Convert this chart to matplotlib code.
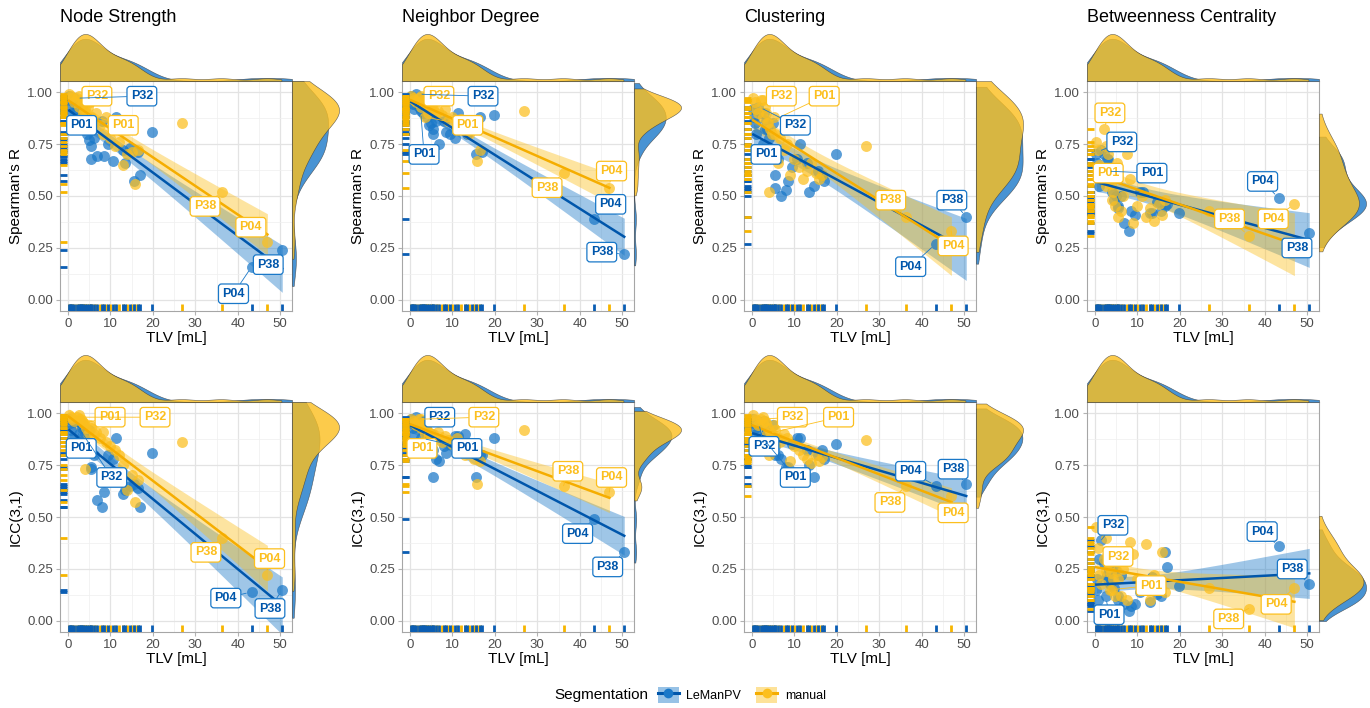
import numpy as np
import matplotlib
matplotlib.use("Agg")
import matplotlib.pyplot as plt
from matplotlib.patches import Patch
from matplotlib.lines import Line2D

plt.rcParams["font.family"] = ["Liberation Sans", "DejaVu Sans"]

# ---- data ----
patient_ids = ["P02", "P03", "P05", "P06", "P32", "P07", "P01", "P08", "P09", "P10",
               "P11", "P12", "P13", "P14", "P15", "P16", "P17", "P18", "P19", "P20",
               "P21", "P22", "P23", "P04", "P38",
               "P24", "P25", "P26", "P27", "P28", "P29", "P30"]
tlv_lem = [0.3, 0.5, 0.8, 1.0, 1.5, 2.0, 2.5, 3.0, 5.0, 5.3, 6.8, 8.0, 8.5, 9.5, 10.5,
           11.2, 13.0, 13.5, 14.5, 15.5, 16.5, 17.0, 19.8, 43.3, 50.5,
           2.8, 3.2, 3.6, 4.0, 4.5, 5.5, 6.0]
tlv_man = [0.2, 0.6, 1.0, 1.3, 2.0, 2.5, 3.5, 4.0, 5.5, 6.0, 6.5, 7.5, 8.3, 9.0, 10.0,
           11.0, 12.0, 13.0, 14.0, 15.0, 15.8, 16.5, 26.8, 47.0, 36.2,
           2.6, 3.0, 3.4, 3.8, 4.2, 4.8, 5.2]

strength_sp_lem = [0.98, 0.96, 0.93, 0.90, 0.97, 0.92, 0.88, 0.90, 0.77, 0.68, 0.69, 0.86, 0.69,
                   0.75, 0.67, 0.88, 0.72, 0.66, 0.73, 0.57, 0.71, 0.60, 0.81, 0.16, 0.24,
                   0.95, 0.91, 0.94, 0.86, 0.80, 0.74, 0.78]
strength_sp_man = [0.99, 0.98, 0.97, 0.95, 0.97, 0.93, 0.90, 0.92, 0.88, 0.85, 0.90, 0.84, 0.80,
                   0.88, 0.78, 0.74, 0.76, 0.65, 0.70, 0.71, 0.56, 0.72, 0.85, 0.28, 0.52,
                   0.98, 0.96, 0.94, 0.91, 0.89, 0.93, 0.95]
neighbor_sp_lem = [0.98, 0.96, 0.94, 0.92, 0.99, 0.93, 0.91, 0.90, 0.85, 0.82, 0.75, 0.86, 0.81,
                   0.80, 0.78, 0.90, 0.85, 0.80, 0.82, 0.70, 0.88, 0.71, 0.89, 0.39, 0.22,
                   0.97, 0.93, 0.95, 0.88, 0.84, 0.80, 0.86]
neighbor_sp_man = [0.98, 0.97, 0.96, 0.95, 0.97, 0.93, 0.88, 0.94, 0.92, 0.90, 0.91, 0.89, 0.92,
                   0.86, 0.88, 0.85, 0.87, 0.82, 0.80, 0.84, 0.67, 0.72, 0.91, 0.54, 0.61,
                   0.98, 0.96, 0.95, 0.93, 0.90, 0.92, 0.94]
clustering_sp_lem = [0.92, 0.88, 0.85, 0.80, 0.93, 0.90, 0.75, 0.82, 0.85, 0.54, 0.50, 0.53, 0.57,
                     0.64, 0.68, 0.75, 0.66, 0.52, 0.55, 0.62, 0.60, 0.57, 0.70, 0.27, 0.40,
                     0.90, 0.86, 0.82, 0.78, 0.72, 0.60, 0.68]
clustering_sp_man = [0.97, 0.95, 0.92, 0.90, 0.96, 0.88, 0.85, 0.52, 0.80, 0.66, 0.78, 0.72, 0.75,
                     0.60, 0.68, 0.64, 0.58, 0.62, 0.66, 0.61, 0.58, 0.60, 0.74, 0.33, 0.40,
                     0.96, 0.93, 0.90, 0.85, 0.82, 0.80, 0.88]
betweenness_sp_lem = [0.70, 0.66, 0.60, 0.55, 0.72, 0.70, 0.62, 0.68, 0.50, 0.45, 0.37, 0.33, 0.43,
                      0.41, 0.52, 0.52, 0.42, 0.42, 0.47, 0.43, 0.45, 0.46, 0.42, 0.49, 0.32,
                      0.68, 0.64, 0.58, 0.52, 0.48, 0.44, 0.50]
betweenness_sp_man = [0.76, 0.72, 0.65, 0.60, 0.82, 0.55, 0.58, 0.48, 0.40, 0.43, 0.50, 0.70, 0.58,
                      0.37, 0.45, 0.50, 0.40, 0.44, 0.38, 0.46, 0.41, 0.48, 0.43, 0.46, 0.31,
                      0.74, 0.70, 0.62, 0.56, 0.52, 0.45, 0.66]

strength_icc_lem = [0.97, 0.95, 0.92, 0.88, 0.96, 0.96, 0.90, 0.95, 0.92, 0.74, 0.58, 0.55, 0.62,
                    0.80, 0.78, 0.88, 0.61, 0.63, 0.65, 0.66, 0.64, 0.55, 0.81, 0.14, 0.15,
                    0.96, 0.93, 0.94, 0.90, 0.86, 0.73, 0.80]
strength_icc_man = [0.99, 0.98, 0.97, 0.96, 0.98, 0.97, 0.95, 0.73, 0.93, 0.90, 0.91, 0.88, 0.91,
                    0.86, 0.84, 0.82, 0.80, 0.75, 0.63, 0.70, 0.57, 0.68, 0.86, 0.22, 0.40,
                    0.99, 0.97, 0.96, 0.95, 0.93, 0.90, 0.94]
neighbor_icc_lem = [0.97, 0.95, 0.93, 0.90, 0.98, 0.95, 0.88, 0.92, 0.90, 0.69, 0.77, 0.84, 0.81,
                    0.85, 0.89, 0.89, 0.90, 0.83, 0.85, 0.69, 0.80, 0.80, 0.88, 0.49, 0.33,
                    0.96, 0.94, 0.92, 0.89, 0.86, 0.82, 0.78]
neighbor_icc_man = [0.97, 0.96, 0.95, 0.94, 0.97, 0.93, 0.90, 0.92, 0.90, 0.88, 0.91, 0.86, 0.89,
                    0.87, 0.85, 0.88, 0.84, 0.80, 0.82, 0.78, 0.66, 0.77, 0.92, 0.62, 0.65,
                    0.97, 0.95, 0.94, 0.93, 0.91, 0.90, 0.96]
clustering_icc_lem = [0.97, 0.95, 0.93, 0.90, 0.96, 0.95, 0.88, 0.86, 0.94, 0.80, 0.78, 0.74, 0.74,
                      0.85, 0.88, 0.88, 0.82, 0.75, 0.69, 0.80, 0.82, 0.78, 0.85, 0.65, 0.66,
                      0.96, 0.93, 0.92, 0.90, 0.87, 0.84, 0.80]
clustering_icc_man = [0.99, 0.97, 0.96, 0.94, 0.97, 0.95, 0.90, 0.80, 0.92, 0.88, 0.86, 0.90, 0.88,
                      0.77, 0.84, 0.82, 0.80, 0.78, 0.76, 0.80, 0.77, 0.79, 0.87, 0.60, 0.65,
                      0.98, 0.96, 0.95, 0.93, 0.91, 0.90, 0.94]
betweenness_icc_lem = [0.15, 0.20, 0.10, 0.30, 0.39, 0.28, 0.12, 0.20, 0.24, 0.12, 0.08, 0.05, 0.07,
                       0.08, 0.14, 0.18, 0.09, 0.21, 0.13, 0.12, 0.33, 0.26, 0.17, 0.36, 0.18,
                       0.22, 0.25, 0.18, 0.24, 0.16, 0.10, 0.22]
betweenness_icc_man = [0.45, 0.35, 0.22, 0.18, 0.30, 0.24, 0.15, 0.15, 0.20, 0.12, 0.25, 0.10, 0.38,
                       0.32, 0.20, 0.16, 0.37, 0.10, 0.22, 0.18, 0.33, 0.14, 0.16, 0.16, 0.06,
                       0.40, 0.28, 0.26, 0.23, 0.20, 0.12, 0.24]

metric_titles = ["Node Strength", "Neighbor Degree", "Clustering", "Betweenness Centrality"]
row_labels = ["Spearman's R", "ICC(3,1)"]
panel_values = [
    [(strength_sp_lem, strength_sp_man), (neighbor_sp_lem, neighbor_sp_man),
     (clustering_sp_lem, clustering_sp_man), (betweenness_sp_lem, betweenness_sp_man)],
    [(strength_icc_lem, strength_icc_man), (neighbor_icc_lem, neighbor_icc_man),
     (clustering_icc_lem, clustering_icc_man), (betweenness_icc_lem, betweenness_icc_man)],
]

# repelled label placements (segmentation, patient, label x, label y)
label_spots = {
    (0, 0): [("man", "P32", 6.8, 0.98), ("lem", "P32", 17.4, 0.98), ("man", "P01", 13.0, 0.84),
             ("lem", "P01", 3.2, 0.84), ("man", "P38", 32.3, 0.45), ("man", "P04", 43.1, 0.35),
             ("lem", "P38", 47.2, 0.17), ("lem", "P04", 39.0, 0.03)],
    (0, 1): [("man", "P32", 6.8, 0.98), ("lem", "P32", 17.2, 0.98), ("man", "P01", 13.6, 0.84),
             ("lem", "P01", 3.3, 0.70), ("man", "P04", 47.5, 0.62), ("man", "P38", 32.3, 0.54),
             ("lem", "P04", 47.3, 0.46), ("lem", "P38", 45.2, 0.23)],
    (0, 2): [("man", "P32", 6.9, 0.98), ("man", "P01", 17.0, 0.98), ("lem", "P32", 10.2, 0.84),
             ("lem", "P01", 3.3, 0.70), ("man", "P38", 32.7, 0.48), ("lem", "P38", 47.1, 0.48),
             ("man", "P04", 47.4, 0.26), ("lem", "P04", 37.4, 0.16)],
    (0, 3): [("man", "P32", 3.5, 0.90), ("lem", "P32", 6.3, 0.76), ("man", "P01", 3.1, 0.61),
             ("lem", "P01", 13.4, 0.61), ("lem", "P04", 39.5, 0.57), ("man", "P38", 31.7, 0.39),
             ("man", "P04", 42.0, 0.39), ("lem", "P38", 47.6, 0.25)],
    (1, 0): [("man", "P01", 9.9, 0.98), ("man", "P32", 20.5, 0.98), ("lem", "P01", 3.1, 0.83),
             ("lem", "P32", 10.3, 0.69), ("man", "P38", 32.5, 0.33), ("man", "P04", 47.5, 0.30),
             ("lem", "P04", 37.2, 0.11), ("lem", "P38", 47.6, 0.06)],
    (1, 1): [("lem", "P32", 7.0, 0.98), ("man", "P32", 17.4, 0.98), ("man", "P01", 2.8, 0.83),
             ("lem", "P01", 13.4, 0.83), ("man", "P38", 37.2, 0.72), ("man", "P04", 47.5, 0.69),
             ("lem", "P04", 39.5, 0.42), ("lem", "P38", 46.6, 0.26)],
    (1, 2): [("man", "P32", 9.5, 0.98), ("man", "P01", 20.4, 0.98), ("lem", "P32", 2.8, 0.84),
             ("lem", "P01", 10.2, 0.69), ("lem", "P04", 37.4, 0.72), ("lem", "P38", 47.4, 0.73),
             ("man", "P38", 32.5, 0.57), ("man", "P04", 47.4, 0.52)],
    (1, 3): [("lem", "P32", 4.2, 0.46), ("man", "P32", 5.4, 0.31), ("man", "P01", 13.2, 0.17),
             ("lem", "P01", 3.3, 0.03), ("lem", "P04", 39.4, 0.43), ("lem", "P38", 46.5, 0.25),
             ("man", "P04", 42.7, 0.08), ("man", "P38", 31.5, 0.01)],
}

# ---- style ----
W, H = 1370, 708
BLUE = "#1a78c8"
BLUE_LINE = "#0056ab"
BLUE_RUG = "#0a5db3"
YELLOW = "#fcbf1e"
YELLOW_LINE = "#f5ad00"
YELLOW_RUG = "#f7b500"
seg_style = {
    "lem": dict(pt=BLUE, line=BLUE_LINE, rug=BLUE_RUG, fill=BLUE, xrug_z=6, yrug_z=5),
    "man": dict(pt=YELLOW, line=YELLOW_LINE, rug=YELLOW_RUG, fill=YELLOW, xrug_z=5, yrug_z=6),
}
col_left = [60, 402, 744, 1087]
row_top = [81, 402]
main_w, main_h = 232, 230
marg = 48
XLIM = (-1.9, 52.8)
YLIM = (-0.053, 1.053)


def frac(left, top, w, h):
    return [left / W, (H - top - h) / H, w / W, h / H]


def lm_band(x, y, t_crit=2.04):
    x = np.asarray(x, float)
    y = np.asarray(y, float)
    slope, icpt = np.polyfit(x, y, 1)
    xs = np.linspace(x.min(), x.max(), 80)
    fit = icpt + slope * xs
    resid = y - (icpt + slope * x)
    n = len(x)
    s = np.sqrt(np.sum(resid ** 2) / (n - 2))
    se = s * np.sqrt(1 / n + (xs - x.mean()) ** 2 / np.sum((x - x.mean()) ** 2))
    return xs, fit, fit - t_crit * se, fit + t_crit * se


def kde(v, lims, adjust=1.0):
    v = np.asarray(v, float)
    n = len(v)
    iqr = np.subtract(*np.percentile(v, [75, 25]))
    bw = adjust * 0.9 * min(v.std(ddof=1), iqr / 1.34) * n ** -0.2
    lo = max(v.min() - bw, lims[0])
    hi = min(v.max() + bw, lims[1])
    grid = np.linspace(lo, hi, 300)
    d = np.exp(-0.5 * ((grid[:, None] - v[None, :]) / bw) ** 2).sum(axis=1)
    return grid, d / (n * bw * np.sqrt(2 * np.pi))


fig = plt.figure(figsize=(W / 100, H / 100), dpi=100)

for r in range(2):
    for c in range(4):
        left, top = col_left[c], row_top[r]
        ax = fig.add_axes(frac(left, top, main_w, main_h))
        ax_top = fig.add_axes(frac(left, top - marg, main_w, marg))
        ax_right = fig.add_axes(frac(left + main_w, top, marg, main_h))

        vals = {"lem": panel_values[r][c][0], "man": panel_values[r][c][1]}
        tlv = {"lem": tlv_lem, "man": tlv_man}

        ax.set_xlim(*XLIM)
        ax.set_ylim(*YLIM)
        ax.set_xticks([0, 10, 20, 30, 40, 50])
        ax.set_xticks([5, 15, 25, 35, 45], minor=True)
        ax.set_yticks([0, 0.25, 0.5, 0.75, 1.0])
        ax.set_yticklabels(["0.00", "0.25", "0.50", "0.75", "1.00"])
        ax.set_yticks([0.125, 0.375, 0.625, 0.875], minor=True)
        ax.grid(which="major", color="#e3e3e3", lw=0.9, zorder=0)
        ax.grid(which="minor", color="#efefef", lw=0.5, zorder=0)
        ax.set_axisbelow(True)
        for sp in ax.spines.values():
            sp.set_color("#a6a6a6")
            sp.set_linewidth(0.8)
        ax.tick_params(which="major", length=3, color="#b3b3b3", labelsize=9.5,
                       labelcolor="#4d4d4d", pad=2)
        ax.tick_params(which="minor", length=0)
        ax.set_xlabel("TLV [mL]", fontsize=11, labelpad=1)
        ax.set_ylabel(row_labels[r], fontsize=11, labelpad=3)

        dens_top, dens_right = [], []
        for seg in ("lem", "man"):
            st = seg_style[seg]
            x = np.asarray(tlv[seg])
            y = np.asarray(vals[seg])
            xs, fit, lo, hi = lm_band(x, y)
            ax.fill_between(xs, lo, hi, color=st["fill"], alpha=0.42, lw=0, zorder=2)
            ax.scatter(x, y, s=62, color=st["pt"], alpha=0.72, lw=0, zorder=3)
            ax.plot(xs, fit, color=st["line"], lw=1.8, zorder=4)
            # rugs
            ax.vlines(x, 0, 0.03, transform=ax.get_xaxis_transform(),
                      color=st["rug"], lw=2.0, zorder=st["xrug_z"])
            ax.hlines(y, 0, 0.03, transform=ax.get_yaxis_transform(),
                      color=st["rug"], lw=2.0, zorder=st["yrug_z"])

            # marginal densities
            gx, dx = kde(x, XLIM, adjust=1.1)
            ax_top.fill_between(gx, 0, dx, color=st["fill"], alpha=0.8,
                                edgecolor="#3a3a3a", lw=0.4)
            gy, dy = kde(y, YLIM, adjust=1.3)
            ax_right.fill_betweenx(gy, 0, dy, color=st["fill"], alpha=0.8,
                                   edgecolor="#3a3a3a", lw=0.4)
            dens_top.append(dx.max())
            dens_right.append(dy.max())

        # labels
        for seg, pid, lx, ly in label_spots[(r, c)]:
            st = seg_style[seg]
            i = patient_ids.index(pid)
            px, py = tlv[seg][i], vals[seg][i]
            ax.annotate(pid, xy=(px, py), xytext=(lx, ly), textcoords="data",
                        ha="center", va="center", fontsize=9, fontweight="bold",
                        color=st["line"] if seg == "lem" else st["pt"], zorder=7,
                        bbox=dict(boxstyle="round,pad=0.3,rounding_size=0.25",
                                  fc="white", ec=st["pt"], lw=0.9),
                        arrowprops=dict(arrowstyle="-", color=st["pt"], lw=0.6,
                                        shrinkA=0, shrinkB=4),
                        annotation_clip=False)

        ax_top.set_xlim(*XLIM)
        ax_top.set_ylim(0, max(dens_top) * 1.02)
        ax_top.axis("off")
        ax_right.set_ylim(*YLIM)
        ax_right.set_xlim(0, max(dens_right) * 1.02)
        ax_right.axis("off")

        if r == 0:
            fig.text(left / W, 1 - 18 / H, metric_titles[c], ha="left", va="center",
                     fontsize=13)

# legend
handles = [
    (Patch(facecolor=BLUE, alpha=0.45, lw=0),
     Line2D([], [], color=BLUE_LINE, lw=2.2, marker="o", markersize=7,
            markerfacecolor=BLUE, markeredgewidth=0)),
    (Patch(facecolor=YELLOW, alpha=0.45, lw=0),
     Line2D([], [], color=YELLOW_LINE, lw=2.2, marker="o", markersize=7,
            markerfacecolor=YELLOW, markeredgewidth=0)),
]
fig.text(648 / W, 1 - 695 / H, "Segmentation", ha="right", va="center", fontsize=11)
fig.legend(handles, ["LeManPV", "manual"], loc="center left",
           bbox_to_anchor=(650 / W, 1 - 695 / H), ncol=2, frameon=False,
           fontsize=9, handlelength=1.7, handleheight=1.7, columnspacing=1.2,
           handletextpad=0.6, borderpad=0.1)

fig.savefig("out.png", dpi=100)
